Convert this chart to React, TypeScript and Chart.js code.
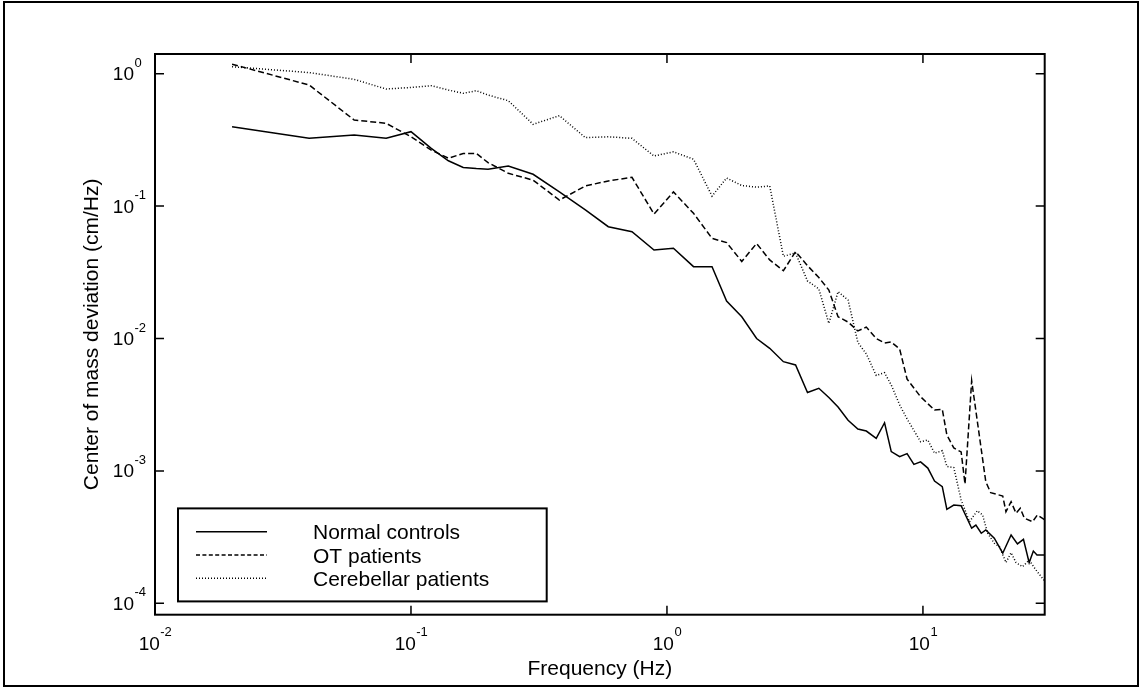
import React, { useEffect, useRef } from 'react';
import { Chart, registerables } from 'chart.js';

Chart.register(...registerables);

// ---- Data ----
const FREQ_NORMAL = [0.02, 0.04, 0.06, 0.08, 0.1, 0.12, 0.14, 0.16, 0.18, 0.2, 0.24, 0.3, 0.38, 0.48, 0.59, 0.73, 0.89, 1.06, 1.27, 1.5, 1.71, 1.96, 2.24, 2.52, 2.85, 3.18, 3.54, 3.92, 4.29, 4.66, 5.1, 5.57, 6.01, 6.57, 7.08, 7.52, 8.11, 8.67, 9.22, 9.79, 10.45, 11.1, 11.9, 12.4, 13.2, 14.1, 15.5, 16.1, 16.9, 17.6, 19.0, 20.5, 22.1, 23.4, 24.7, 26.0, 27.0, 27.9, 30];
const VAL_NORMAL = [0.398, 0.325, 0.344, 0.325, 0.365, 0.273, 0.22, 0.196, 0.192, 0.19, 0.201, 0.174, 0.128, 0.0935, 0.0699, 0.0641, 0.0466, 0.048, 0.0349, 0.0349, 0.0192, 0.0146, 0.01, 0.00843, 0.00668, 0.00631, 0.00391, 0.00421, 0.00358, 0.00304, 0.00241, 0.00207, 0.002, 0.00176, 0.00231, 0.0014, 0.00128, 0.00135, 0.00112, 0.00117, 0.00105, 0.000839, 0.00076, 0.000513, 0.000552, 0.000546, 0.000369, 0.00039, 0.000338, 0.000358, 0.00031, 0.000239, 0.000328, 0.000281, 0.000304, 0.000203, 0.000248, 0.000232, 0.000232];

const FREQ_OT = [0.02, 0.04, 0.06, 0.08, 0.1, 0.12, 0.14, 0.16, 0.18, 0.2, 0.24, 0.3, 0.38, 0.48, 0.59, 0.73, 0.89, 1.06, 1.27, 1.5, 1.71, 1.96, 2.24, 2.52, 2.85, 3.18, 3.54, 3.92, 4.29, 4.66, 5.1, 5.57, 6.01, 6.57, 7.08, 7.52, 8.11, 8.67, 9.79, 11.1, 11.9, 12.4, 13.2, 14.1, 14.6, 15.5, 17.6, 18.4, 20.5, 21.1, 22.1, 23.1, 24.0, 24.9, 26.8, 28.0, 30];
const VAL_OT = [1.18, 0.822, 0.447, 0.422, 0.334, 0.265, 0.23, 0.25, 0.25, 0.213, 0.177, 0.157, 0.111, 0.142, 0.155, 0.165, 0.0871, 0.128, 0.0882, 0.0571, 0.053, 0.0382, 0.0522, 0.0392, 0.0325, 0.0453, 0.0355, 0.0289, 0.0232, 0.0146, 0.0133, 0.0114, 0.0122, 0.01, 0.00925, 0.00941, 0.00833, 0.00494, 0.00363, 0.00288, 0.00292, 0.00187, 0.00149, 0.00139, 0.000796, 0.0048, 0.000828, 0.000684, 0.000646, 0.000492, 0.000585, 0.000479, 0.000522, 0.000439, 0.000413, 0.000465, 0.000426];

const FREQ_CEREB = [0.02, 0.04, 0.06, 0.08, 0.1, 0.12, 0.14, 0.16, 0.18, 0.2, 0.24, 0.3, 0.38, 0.48, 0.59, 0.73, 0.89, 1.06, 1.27, 1.5, 1.71, 1.96, 2.24, 2.52, 2.85, 3.18, 3.54, 3.92, 4.29, 4.66, 5.1, 5.57, 6.01, 6.57, 7.08, 7.52, 8.11, 8.67, 9.79, 10.45, 11.1, 11.9, 12.4, 13.2, 14.1, 15.2, 16.3, 17.1, 17.9, 19.0, 19.9, 21.1, 22.1, 23.1, 24.5, 26.0, 27.6, 30];
const VAL_CEREB = [1.13, 1.02, 0.907, 0.766, 0.787, 0.812, 0.753, 0.711, 0.744, 0.69, 0.625, 0.415, 0.482, 0.329, 0.334, 0.325, 0.239, 0.257, 0.226, 0.119, 0.163, 0.143, 0.139, 0.142, 0.0418, 0.0442, 0.0272, 0.0237, 0.013, 0.0226, 0.0195, 0.00933, 0.00764, 0.00526, 0.00552, 0.00445, 0.00315, 0.00247, 0.00166, 0.00171, 0.00136, 0.00142, 0.00108, 0.00106, 0.000603, 0.000413, 0.0005, 0.000465, 0.000338, 0.000284, 0.000268, 0.000203, 0.000241, 0.000203, 0.000189, 0.000212, 0.000179, 0.000146];

const SERIES_LABELS = ['Normal controls', 'OT patients', 'Cerebellar patients'];

const X_TICKS = [0.01, 0.1, 1, 10];
const X_TICK_EXP = ['-2', '-1', '0', '1'];
const Y_TICKS = [1e-4, 1e-3, 1e-2, 1e-1, 1];
const Y_TICK_EXP = ['-4', '-3', '-2', '-1', '0'];

const X_TITLE = 'Frequency (Hz)';
const Y_TITLE = 'Center of mass deviation (cm/Hz)';

const X_MIN = 0.01;
const X_MAX = 29.9;
const Y_MIN = 8.2e-5;
const Y_MAX = 1.409;

const FONT = '"Liberation Sans", Arial, Helvetica, sans-serif';
const DASHES: number[][] = [[], [6, 3], [1, 2]];
const LEGEND_DASHES: number[][] = [[], [4, 2.4], [1, 2]];

const framePlugin = {
  id: 'matlabFrame',
  afterDraw(chart: any) {
    const { ctx, chartArea: ca, scales } = chart;
    const xs = scales.x;
    const ys = scales.y;
    ctx.save();
    ctx.strokeStyle = '#000';
    ctx.fillStyle = '#000';
    ctx.setLineDash([]);

    // figure border
    ctx.lineWidth = 2;
    ctx.strokeRect(4, 2, 1134, 684);

    // inward ticks on all four sides
    ctx.lineWidth = 1.5;
    ctx.beginPath();
    X_TICKS.forEach((v) => {
      const px = xs.getPixelForValue(v);
      ctx.moveTo(px, ca.bottom);
      ctx.lineTo(px, ca.bottom - 9);
      ctx.moveTo(px, ca.top);
      ctx.lineTo(px, ca.top + 9);
    });
    Y_TICKS.forEach((v) => {
      const py = ys.getPixelForValue(v);
      ctx.moveTo(ca.left, py);
      ctx.lineTo(ca.left + 9, py);
      ctx.moveTo(ca.right, py);
      ctx.lineTo(ca.right - 9, py);
    });
    ctx.stroke();

    // axes box
    ctx.lineWidth = 2;
    ctx.strokeRect(ca.left, ca.top, ca.right - ca.left, ca.bottom - ca.top);

    // tick labels 10^n
    const baseFont = `19px ${FONT}`;
    const expFont = `13px ${FONT}`;
    ctx.textBaseline = 'alphabetic';
    ctx.textAlign = 'left';
    X_TICKS.forEach((v, i) => {
      const px = xs.getPixelForValue(v);
      ctx.font = baseFont;
      const wb = ctx.measureText('10').width;
      ctx.font = expFont;
      const we = ctx.measureText(X_TICK_EXP[i]).width;
      const x0 = px - (wb + we) / 2;
      ctx.font = baseFont;
      ctx.fillText('10', x0, ca.bottom + 35.5);
      ctx.font = expFont;
      ctx.fillText(X_TICK_EXP[i], x0 + wb + 0.5, ca.bottom + 21.5);
    });
    Y_TICKS.forEach((v, i) => {
      const py = ys.getPixelForValue(v);
      ctx.font = baseFont;
      ctx.textAlign = 'right';
      ctx.fillText('10', ca.left - 21, py + 6.5);
      ctx.font = expFont;
      ctx.textAlign = 'left';
      ctx.fillText(Y_TICK_EXP[i], ca.left - 20.5, py - 7);
    });

    // axis titles
    ctx.font = `21px ${FONT}`;
    ctx.textAlign = 'center';
    ctx.fillText(X_TITLE, (ca.left + ca.right) / 2, ca.bottom + 60);
    ctx.save();
    ctx.translate(ca.left - 57, (ca.top + ca.bottom) / 2);
    ctx.rotate(-Math.PI / 2);
    ctx.fillText(Y_TITLE, 0, 0);
    ctx.restore();

    // legend box
    const lx = ca.left + 23;
    const ly = ca.bottom - 106.3;
    const lw = 368.7;
    const lh = 93;
    ctx.fillStyle = '#fff';
    ctx.fillRect(lx, ly, lw, lh);
    ctx.fillStyle = '#000';
    ctx.lineWidth = 2;
    ctx.strokeRect(lx, ly, lw, lh);
    ctx.font = `21px ${FONT}`;
    ctx.textAlign = 'left';
    SERIES_LABELS.forEach((label, i) => {
      const yy = ly + 23.3 + i * 23.3;
      ctx.lineWidth = 1.5;
      ctx.setLineDash(LEGEND_DASHES[i]);
      ctx.beginPath();
      ctx.moveTo(lx + 18, yy);
      ctx.lineTo(lx + 89, yy);
      ctx.stroke();
      ctx.setLineDash([]);
      ctx.fillText(label, lx + 135, yy + 7.5);
    });
    ctx.restore();
  },
};

export default function App() {
  const canvasRef = useRef<HTMLCanvasElement | null>(null);

  useEffect(() => {
    if (!canvasRef.current) return;
    const series = [
      { f: FREQ_NORMAL, v: VAL_NORMAL },
      { f: FREQ_OT, v: VAL_OT },
      { f: FREQ_CEREB, v: VAL_CEREB },
    ];
    const chart = new Chart(canvasRef.current, {
      type: 'line',
      data: {
        datasets: series.map((s, i) => ({
          label: SERIES_LABELS[i],
          data: s.f.map((f, j) => ({ x: f, y: s.v[j] })),
          borderColor: '#000',
          borderWidth: 1.5,
          borderDash: DASHES[i],
          pointRadius: 0,
          fill: false,
          tension: 0,
        })),
      },
      options: {
        responsive: false,
        animation: false,
        events: [],
        layout: { padding: { left: 155, top: 54, right: 96.3, bottom: 73.3 } },
        scales: {
          x: { type: 'logarithmic', min: X_MIN, max: X_MAX, display: false },
          y: { type: 'logarithmic', min: Y_MIN, max: Y_MAX, display: false },
        },
        plugins: {
          legend: { display: false },
          tooltip: { enabled: false },
        },
      },
      plugins: [framePlugin],
    });
    return () => chart.destroy();
  }, []);

  return (
    <div style={{ position: 'absolute', left: 0, top: 0, width: 1141, height: 688, background: '#fff' }}>
      <canvas ref={canvasRef} width={1141} height={688} style={{ display: 'block' }} />
    </div>
  );
}
